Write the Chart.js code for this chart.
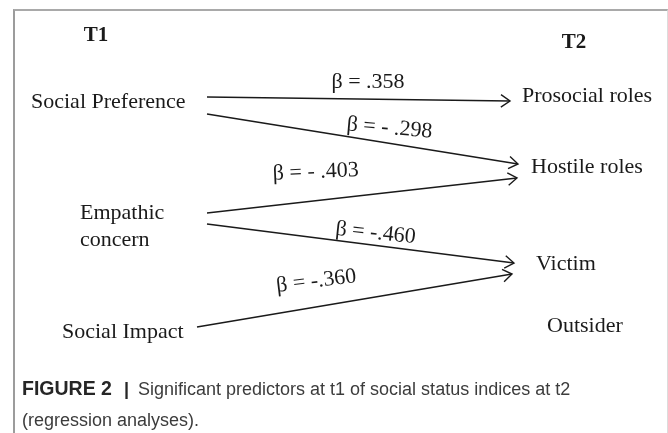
<!DOCTYPE html>
<html>
<head>
<meta charset="utf-8">
<script src="https://cdn.jsdelivr.net/npm/chart.js@4.4.0/dist/chart.umd.min.js"></script>
<style>
    body { margin: 0; background: #fff; }
    #wrap { position: relative; width: 668px; height: 433px; overflow: hidden; }
    #frame {
        position: absolute; left: 13px; top: 9px; width: 652px; height: 440px;
        border-top: 2px solid #a9a9a9; border-left: 2px solid #9c9c9c; border-right: 1px solid #dcdcdc;
    }
    #diagram { position: absolute; left: 0; top: 0; }
    .caption {
        position: absolute; left: 22px; font-family: "Liberation Sans", Arial, sans-serif;
        font-size: 18px; color: #3c3c3c; white-space: nowrap;
    }
    .caption b { color: #262626; font-size: 19.5px; }
    .caption .bar { color: #262626; font-weight: bold; margin: 0 9px 0 12px; }
</style>
</head>
<body>
<div id="wrap">
    <div id="frame"></div>
    <canvas id="diagram" width="668" height="433"></canvas>
    <div class="caption" style="top:377px"><b>FIGURE 2</b><span class="bar">|</span>Significant predictors at t1 of social status indices at t2</div>
    <div class="caption" style="top:410px">(regression analyses).</div>
</div>
<script>
// path model: predictors at T1, outcomes at T2
const predictors = ['Social Preference', 'Empathic concern', 'Social Impact'];
const outcomes = ['Prosocial roles', 'Hostile roles', 'Victim', 'Outsider'];

// significant paths
const pathFrom = ['Social Preference', 'Social Preference', 'Empathic concern', 'Empathic concern', 'Social Impact'];
const pathTo = ['Prosocial roles', 'Hostile roles', 'Hostile roles', 'Victim', 'Victim'];
const betas = ['.358', '- .298', '- .403', '-.460', '-.360'];

// arrow ends in diagram units (x right, y down)
const startX = [207, 207, 207, 207, 197];
const startY = [97, 114, 213, 224, 327];
const endX = [510, 518, 517, 514, 512];
const endY = [101, 164, 178, 263, 274];

// where the text sits (left edge / baseline)
const nodeLayout = {
    'Social Preference': [{ t: 'Social Preference', x: 31, y: 108 }],
    'Empathic concern': [{ t: 'Empathic', x: 80, y: 219 }, { t: 'concern', x: 80, y: 246 }],
    'Social Impact': [{ t: 'Social Impact', x: 62, y: 338 }],
    'Prosocial roles': [{ t: 'Prosocial roles', x: 522, y: 102 }],
    'Hostile roles': [{ t: 'Hostile roles', x: 531, y: 173 }],
    'Victim': [{ t: 'Victim', x: 536, y: 270 }],
    'Outsider': [{ t: 'Outsider', x: 547, y: 332 }],
};
// beta label centre, baseline, tilt in degrees
const betaLayout = [
    { x: 368, y: 88, rot: 0 },
    { x: 389, y: 134, rot: 5 },
    { x: 316, y: 178, rot: -2.5 },
    { x: 375, y: 239, rot: 6 },
    { x: 317, y: 287, rot: -7 },
];

const serif = '"Liberation Serif", "Times New Roman", serif';
const ink = '#1a1a1a';

const datasets = pathFrom.map((from, i) => ({
    label: from + ' -> ' + pathTo[i],
    data: [{ x: startX[i], y: startY[i] }, { x: endX[i], y: endY[i] }],
    showLine: true,
    borderColor: ink,
    borderWidth: 1.4,
    pointRadius: 0,
    fill: false,
}));

const diagramText = {
    id: 'diagramText',
    afterDatasetsDraw(chart) {
        const ctx = chart.ctx;
        const sx = chart.scales.x, sy = chart.scales.y;
        const px = v => sx.getPixelForValue(v);
        const py = v => sy.getPixelForValue(v);
        ctx.save();

        // open arrow heads
        ctx.strokeStyle = ink;
        ctx.lineWidth = 1.4;
        pathFrom.forEach((f, i) => {
            const x1 = px(startX[i]), y1 = py(startY[i]);
            const x2 = px(endX[i]), y2 = py(endY[i]);
            const a = Math.atan2(y2 - y1, x2 - x1);
            const len = 11, spread = 0.6;
            ctx.beginPath();
            ctx.moveTo(x2 - len * Math.cos(a - spread), y2 - len * Math.sin(a - spread));
            ctx.lineTo(x2, y2);
            ctx.lineTo(x2 - len * Math.cos(a + spread), y2 - len * Math.sin(a + spread));
            ctx.stroke();
        });

        ctx.fillStyle = ink;
        ctx.textBaseline = 'alphabetic';

        // column headings
        ctx.font = 'bold 21px ' + serif;
        ctx.textAlign = 'center';
        ctx.fillText('T1', px(96), py(41));
        ctx.fillText('T2', px(574), py(48));

        // node names
        ctx.font = '22px ' + serif;
        ctx.textAlign = 'left';
        predictors.concat(outcomes).forEach(name => {
            nodeLayout[name].forEach(l => ctx.fillText(l.t, px(l.x), py(l.y)));
        });

        // coefficients
        ctx.textAlign = 'center';
        betas.forEach((b, i) => {
            const l = betaLayout[i];
            ctx.save();
            ctx.translate(px(l.x), py(l.y));
            ctx.rotate(l.rot * Math.PI / 180);
            ctx.fillText('β = ' + b, 0, 0);
            ctx.restore();
        });
        ctx.restore();
    }
};

new Chart(document.getElementById('diagram'), {
    type: 'scatter',
    data: { datasets },
    options: {
        responsive: false,
        animation: false,
        layout: { padding: 0 },
        plugins: { legend: { display: false }, tooltip: { enabled: false } },
        scales: {
            x: { type: 'linear', min: 0, max: 668, display: false },
            y: { type: 'linear', min: 0, max: 433, reverse: true, display: false },
        }
    },
    plugins: [diagramText]
});
</script>
</body>
</html>
